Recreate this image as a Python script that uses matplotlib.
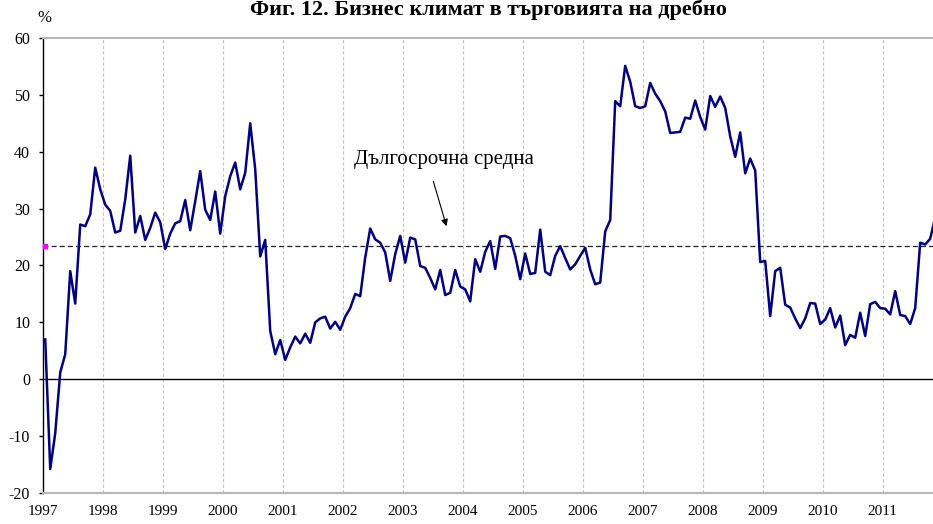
import numpy as np
import matplotlib.pyplot as plt

plt.rcParams['font.family'] = ['Liberation Serif', 'DejaVu Serif']
plt.rcParams['axes.unicode_minus'] = False

# monthly business climate in retail trade, Jan 1997 - Nov 2011 (%)
climate = [
    # 1997
    7.0, -15.8, -9.5, 1.2, 4.4, 19.0, 13.3, 27.2, 26.9, 29.0, 37.2, 33.4,
    # 1998
    30.7, 29.6, 25.8, 26.1, 31.6, 39.3, 25.8, 28.7, 24.5, 26.6, 29.3, 27.6,
    # 1999
    22.9, 25.6, 27.4, 27.8, 31.5, 26.2, 31.3, 36.6, 29.8, 28.0, 33.0, 25.6,
    # 2000
    32.2, 35.7, 38.1, 33.4, 36.3, 45.0, 36.9, 21.6, 24.5, 8.5, 4.4, 6.9,
    # 2001
    3.4, 5.6, 7.5, 6.3, 8.0, 6.4, 10.0, 10.7, 11.0, 8.9, 10.1, 8.7,
    # 2002
    11.0, 12.5, 15.0, 14.6, 21.4, 26.5, 24.6, 24.0, 22.3, 17.3, 22.0, 25.2,
    # 2003
    20.5, 24.9, 24.6, 19.9, 19.6, 17.8, 15.8, 19.2, 14.8, 15.2, 19.2, 16.3,
    # 2004
    15.8, 13.7, 21.1, 18.9, 22.4, 24.3, 19.4, 25.1, 25.2, 24.8, 21.7, 17.6,
    # 2005
    22.1, 18.5, 18.7, 26.3, 18.9, 18.3, 21.7, 23.4, 21.3, 19.3, 20.2, 21.7,
    # 2006
    23.1, 19.3, 16.7, 17.0, 26.0, 28.0, 48.9, 48.0, 55.1, 52.3, 48.0, 47.7,
    # 2007
    48.0, 52.1, 50.2, 48.9, 47.1, 43.3, 43.4, 43.5, 46.0, 45.8, 49.0, 46.1,
    # 2008
    43.9, 49.8, 47.9, 49.7, 47.7, 42.7, 39.1, 43.4, 36.2, 38.8, 36.7, 20.6,
    # 2009
    20.8, 11.1, 19.0, 19.6, 13.1, 12.6, 10.7, 9.0, 10.7, 13.4, 13.3, 9.7,
    # 2010
    10.5, 12.5, 9.1, 11.2, 6.0, 7.8, 7.3, 11.7, 7.6, 13.2, 13.6, 12.5,
    # 2011
    12.4, 11.4, 15.5, 11.3, 11.1, 9.7, 12.5, 24.0, 23.7, 24.7, 28.5,
]
long_term_avg = 23.4
years = list(range(1997, 2012))
y_ticks = [-20, -10, 0, 10, 20, 30, 40, 50, 60]

title = 'Фиг. 12. Бизнес климат в търговията на дребно'
avg_label = 'Дългосрочна средна'

# month i is drawn in the middle of its month
t = 1997 + (np.arange(len(climate)) + 0.5) / 12

fig = plt.figure(figsize=(9.33, 5.24), dpi=100)
ax = fig.add_axes([0.0458, 0.0592, 0.9542, 0.8683])

ax.set_xlim(1997, 1997 + 890.3 / 60)
ax.set_ylim(-20, 60)

# vertical year grid
for yr in years[1:]:
    ax.axvline(yr, color='#c4c4c4', lw=0.8, ls=(0, (3, 2)), zorder=1)

ax.axhline(0, color='black', lw=1.0, zorder=2)
ax.axhline(long_term_avg, color='#222222', lw=0.9, ls=(0, (4, 2.5)), zorder=2)
ax.plot(t[0], long_term_avg, marker='s', ms=3.2, color='#ff00ff', mec='#ff00ff', zorder=4, clip_on=False)

ax.plot(t, climate, color='#000080', lw=1.8, zorder=3)

# label and arrow pointing at the long-term average
ax.text(2003.69, 38.6, avg_label, ha='center', va='center', fontsize=15)
ax.annotate('', xy=(2003.73, 26.9), xytext=(2003.51, 34.8),
            arrowprops=dict(arrowstyle='-|>', color='black', lw=0.8,
                            mutation_scale=10, shrinkA=0, shrinkB=0))

ax.set_yticks(y_ticks)
ax.set_yticklabels([str(v) for v in y_ticks])
ax.set_xticks(years)
ax.set_xticklabels([str(y) for y in years])
ax.tick_params(axis='y', length=3, width=1, pad=6, labelsize=11.5)
ax.tick_params(axis='x', length=0, pad=9, labelsize=11)

ax.spines['right'].set_visible(False)
ax.spines['left'].set_color('black')
ax.spines['left'].set_linewidth(1.0)
ax.spines['top'].set_color('#b8b8b8')
ax.spines['top'].set_linewidth(1.5)
ax.spines['bottom'].set_color('#b8b8b8')
ax.spines['bottom'].set_linewidth(1.5)

fig.text(0.048, 0.966, '%', ha='center', va='center', fontsize=12)
fig.text(0.523, 0.972, title, ha='center', va='baseline', fontsize=16, fontweight='bold')

fig.savefig('out.png', dpi=100)
